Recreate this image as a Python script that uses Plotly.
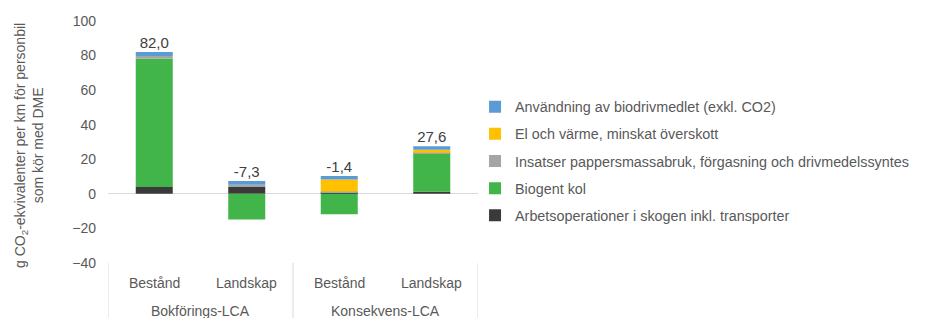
import plotly.graph_objects as go

groups = ["Bokförings-LCA", "Bokförings-LCA", "Konsekvens-LCA", "Konsekvens-LCA"]
cases = ["Bestånd", "Landskap", "Bestånd", "Landskap"]

arbetsoperationer = [4.0, 3.9, 1.0, 1.2]
biogent_kol = [74.3, -14.8, -11.8, 22.3]
insatser = [1.4, 1.3, 0.3, 0.3]
el_och_varme = [0.0, 0.0, 7.0, 1.7]
anvandning = [2.3, 2.3, 2.1, 2.1]

y_title = "g CO<sub>2</sub>-ekvivalenter per km för personbil<br>som kör med DME"

series = [
    ("Arbetsoperationer i skogen inkl. transporter", arbetsoperationer, "#3A3A3A"),
    ("Biogent kol", biogent_kol, "#41B549"),
    ("Insatser pappersmassabruk, förgasning och drivmedelssyntes", insatser, "#A5A5A5"),
    ("El och värme, minskat överskott", el_och_varme, "#FFC000"),
    ("Användning av biodrivmedlet (exkl. CO2)", anvandning, "#5B9BD5"),
]

xpos = list(range(len(cases)))
fig = go.Figure()
n = len(series)
for k, (name, vals, col) in enumerate(series):
    fig.add_trace(go.Bar(x=xpos, y=vals, name=name, legendgroup=name, legendrank=1000 + (n - k),
                         marker=dict(color=col, line=dict(width=0)), width=0.4))

totals = [sum(s[1][i] for s in series) for i in range(len(cases))]
pos_tops = [sum(max(s[1][i], 0) for s in series) for i in range(len(cases))]
labels = [f"{t:.1f}".replace(".", ",") for t in totals]
fig.add_trace(go.Scatter(x=xpos, y=pos_tops, mode="text", text=labels, textposition="top center",
                         textfont=dict(size=15, color="#404040"), showlegend=False, hoverinfo="skip",
                         cliponaxis=False))

GRAY = "#595959"
annotations = []
for i, c in enumerate(cases):
    annotations.append(dict(x=i, y=-0.081, xref="x", yref="paper", text=c, showarrow=False,
                            xanchor="center", yanchor="middle", font=dict(size=14, color=GRAY)))
uniq = []
for g in groups:
    if g not in uniq:
        uniq.append(g)
bounds = [-0.5]
for g in uniq:
    idx = [i for i, gg in enumerate(groups) if gg == g]
    annotations.append(dict(x=sum(idx) / len(idx), y=-0.2, xref="x", yref="paper", text=g,
                            showarrow=False, xanchor="center", yanchor="middle",
                            font=dict(size=14, color=GRAY)))
    bounds.append(max(idx) + 0.5)
annotations.append(dict(x=-0.214, y=0.487, xref="paper", yref="paper", text=y_title, textangle=-90,
                        showarrow=False, xanchor="center", yanchor="middle",
                        font=dict(size=14, color=GRAY)))

shapes = [dict(type="line", xref="x", yref="paper", x0=b, x1=b, y0=0, y1=-0.23,
               line=dict(color="#D9D9D9", width=1)) for b in bounds]

# page body has an 8px default margin; compensate so the plot lines up with the 925x318 window
fig.update_layout(
    barmode="relative",
    width=945, height=310,
    margin=dict(l=100, r=475, t=13, b=55, autoexpand=False),
    paper_bgcolor="white", plot_bgcolor="white",
    font=dict(family="Liberation Sans, Arial, sans-serif", size=14, color=GRAY),
    legend=dict(traceorder="grouped", x=0.992, y=0.42, xanchor="left", yanchor="middle",
                font=dict(size=14.35, color=GRAY), itemwidth=30, tracegroupgap=5.5,
                bgcolor="rgba(0,0,0,0)"),
    showlegend=True,
    annotations=annotations,
    shapes=shapes,
)
fig.update_yaxes(range=[-40, 100], dtick=20, showgrid=False, zeroline=True, zerolinecolor="#D9D9D9",
                 zerolinewidth=1, showline=False, ticks="", ticklabelstandoff=11, automargin=False,
                 tickfont=dict(size=14, color=GRAY))
fig.update_xaxes(range=[-0.5, len(cases) - 0.5], showgrid=False, showline=False, zeroline=False,
                 ticks="", showticklabels=False, automargin=False)

fig.write_html("out.html")
